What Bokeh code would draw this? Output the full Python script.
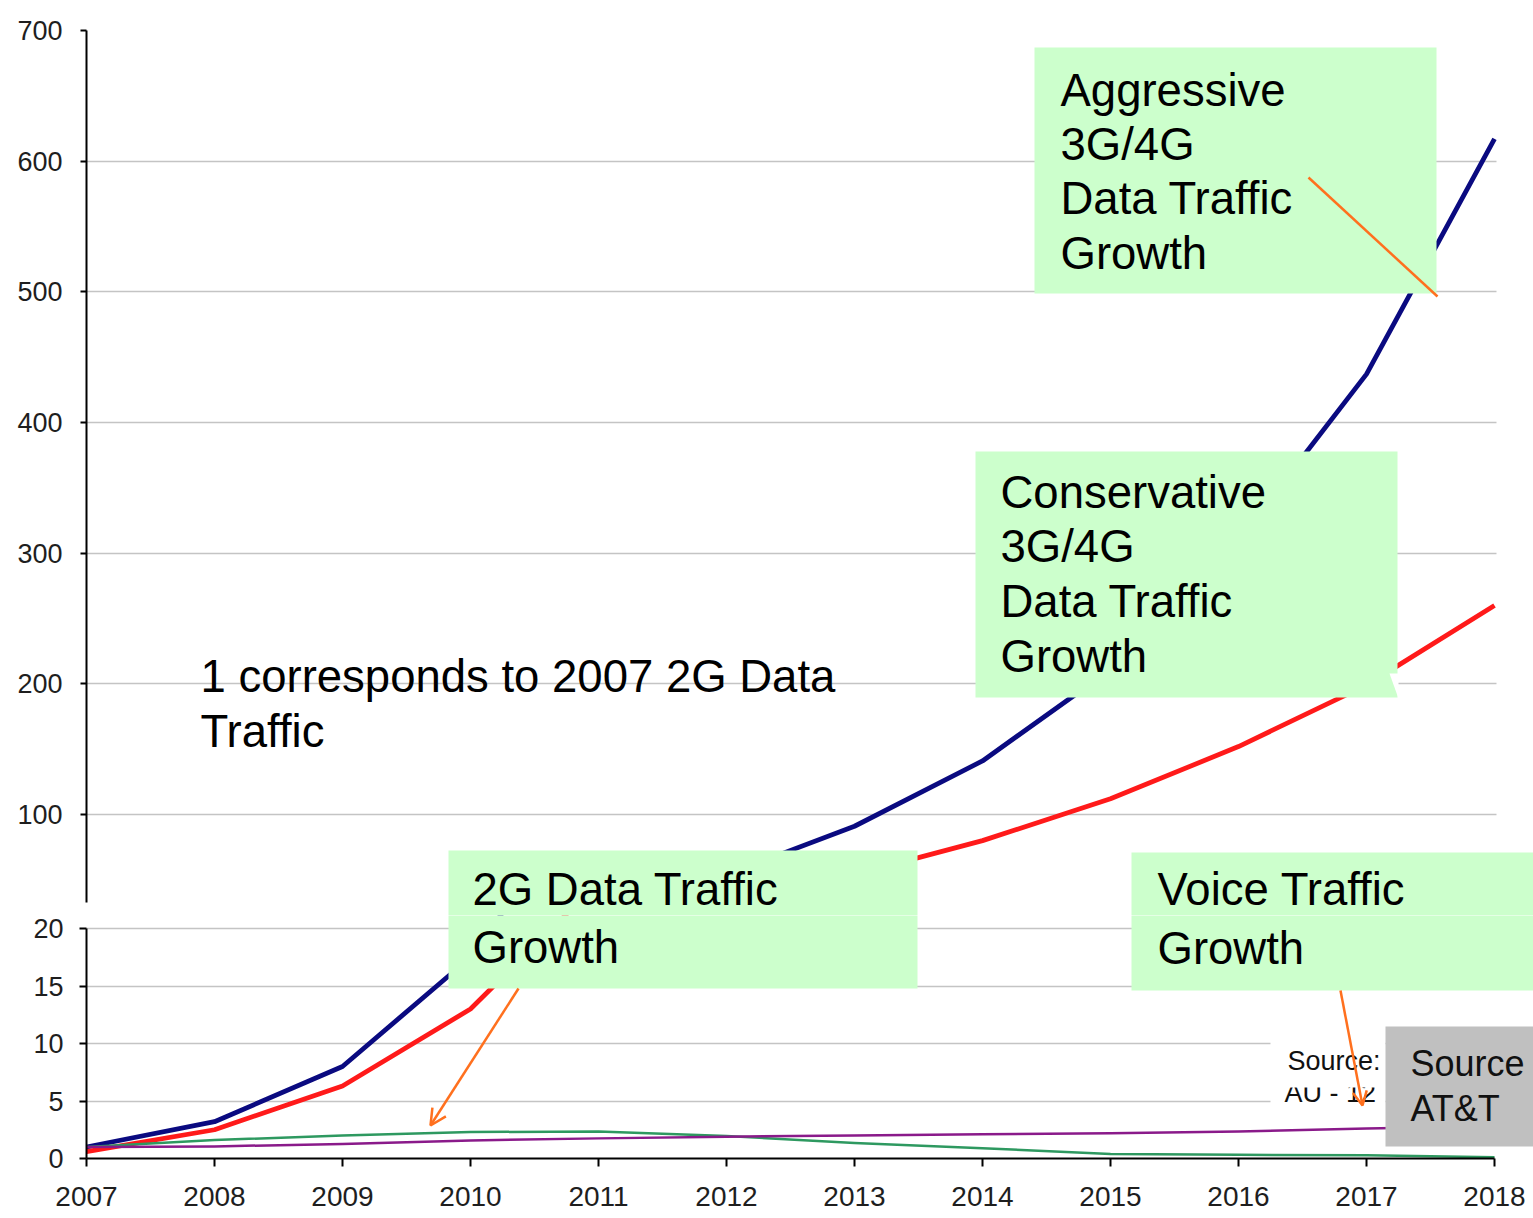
from bokeh.plotting import figure
from bokeh.layouts import column
from bokeh.models import (BoxAnnotation, Label, Arrow, OpenHead, FixedTicker,
                          Range1d, PolyAnnotation)
from bokeh.embed import file_html
from bokeh.resources import INLINE

# ---------------- data ----------------
years = list(range(2007, 2019))
aggressive_3g4g = [1.0, 3.2, 8.0, 17.5, 33, 54, 91, 141, 211, 310, 437, 617]
conservative_3g4g = [0.6, 2.5, 6.3, 13.0, 24, 37, 54, 80, 112, 152, 199, 260]
data_2g = [1.0, 1.6, 2.0, 2.3, 2.35, 1.95, 1.35, 0.9, 0.4, 0.32, 0.28, 0.1]
voice = [1.0, 1.05, 1.27, 1.57, 1.75, 1.9, 2.0, 2.1, 2.2, 2.35, 2.6, 2.8]
upper_ticks = [100, 200, 300, 400, 500, 600, 700]
lower_ticks = [0, 5, 10, 15, 20]

FONT = "Liberation Sans"
BOX_GREEN = "#ccffcc"
ORANGE = "#ff701e"
BIG = "45.5px"

# image-pixel -> data helpers (for annotation placement only)
def X(px):
    return 2007 + (px - 86) / 128.0

def YU(py):
    return 700 - (py - 30) * 600.0 / 784.0

def YL(py):
    return (1158 - py) * 20.0 / 230.0

series = [
    (aggressive_3g4g, "#0a0a80", 4.8),
    (conservative_3g4g, "#ff1a1a", 4.8),
    (data_2g, "#2e9960", 2.5),
    (voice, "#8a1a8a", 2.5),
]

def style(p):
    p.outline_line_color = None
    p.background_fill_color = "white"
    p.border_fill_color = "white"
    p.xgrid.visible = False
    p.ygrid.grid_line_color = "#c4c4c4"
    p.ygrid.grid_line_width = 1.6
    for ax in p.axis:
        ax.axis_line_color = "black"
        ax.axis_line_width = 2
        ax.major_tick_line_color = "black"
        ax.major_tick_line_width = 2
        ax.major_tick_in = 0
        ax.minor_tick_line_color = None
        ax.major_label_text_font = FONT
        ax.major_label_text_color = "#1e1e1e"

def box(p, l, r, t, b, color, level="annotation"):
    p.add_layout(BoxAnnotation(left=l, right=r, top=t, bottom=b, fill_color=color,
                               fill_alpha=1, line_color=None, level=level))

def lab(p, x, y, text, size=BIG, color="black"):
    p.add_layout(Label(x=x, y=y, text=text, text_font=FONT, text_font_size=size,
                       text_color=color, text_align="left", text_baseline="middle"))

# ---------------- upper panel ----------------
up = figure(width=1533, height=915, output_backend="svg", toolbar_location=None,
            x_range=Range1d(2007, X(1533)), y_range=Range1d(YU(915), 700),
            x_axis_location=None,
            min_border_left=86, min_border_right=0, min_border_top=30, min_border_bottom=0)
style(up)
up.yaxis.ticker = FixedTicker(ticks=upper_ticks)
up.yaxis.bounds = (YU(902), 700)
up.ygrid.ticker = FixedTicker(ticks=upper_ticks)
up.yaxis.major_tick_out = 6
up.yaxis.major_label_standoff = 18
up.yaxis.major_label_text_font_size = "27px"
# gridlines stop at the 2018 edge
box(up, X(1496), None, None, None, "white", level="underlay")

for vals, col, w in series:
    up.line(years, vals, line_color=col, line_width=w, line_join="round")

# ---------------- lower panel ----------------
lo = figure(width=1533, height=303, output_backend="svg", toolbar_location=None,
            x_range=Range1d(2007, X(1533)), y_range=Range1d(0, YL(915)),
            min_border_left=86, min_border_right=0, min_border_top=0, min_border_bottom=60)
style(lo)
lo.yaxis.ticker = FixedTicker(ticks=lower_ticks)
lo.yaxis.bounds = (0, 20)
lo.ygrid.ticker = FixedTicker(ticks=lower_ticks[1:])
lo.xaxis.ticker = FixedTicker(ticks=years)
lo.xaxis.bounds = (2007, 2018)
lo.yaxis.major_tick_out = 7
lo.yaxis.major_label_standoff = 16
lo.yaxis.major_label_text_font_size = "27px"
lo.xaxis.major_tick_out = 8
lo.xaxis.major_label_standoff = 20
lo.xaxis.major_label_text_font_size = "28px"
box(lo, X(1496), None, None, None, "white", level="underlay")

for vals, col, w in series:
    lo.line(years, vals, line_color=col, line_width=w, line_join="round")

# ---------------- annotations ----------------
# Aggressive box
box(up, X(1034), X(1436), YU(47), YU(293), BOX_GREEN)
for t, py in zip(["Aggressive", "3G/4G", "Data Traffic", "Growth"], [90, 144, 198, 253]):
    lab(up, X(1060), YU(py), t)

# Conservative box (with small notch at bottom right)
box(up, X(975), X(1397), YU(451), YU(697), BOX_GREEN)
up.add_layout(PolyAnnotation(xs=[X(1389), X(1398), X(1398)], ys=[YU(673), YU(673), YU(698)],
                             fill_color="white", fill_alpha=1, line_color=None))
for t, py in zip(["Conservative", "3G/4G", "Data Traffic", "Growth"], [492, 546, 601, 656]):
    lab(up, X(1000), YU(py), t)

# Note text
lab(up, X(200), YU(676), "1 corresponds to 2007 2G Data")
lab(up, X(200), YU(731), "Traffic")

# 2G box (spans both panels)
box(up, X(448), X(917), YU(850), YU(930), BOX_GREEN)
box(lo, X(448), X(917), YL(900), YL(988), BOX_GREEN)
lab(up, X(472), YU(889), "2G Data Traffic")
lab(lo, X(472), YL(947), "Growth")

# Voice box (spans both panels)
box(up, X(1131), X(1545), YU(852), YU(930), BOX_GREEN)
box(lo, X(1131), X(1545), YL(900), YL(990), BOX_GREEN)
lab(up, X(1157), YU(889), "Voice Traffic")
lab(lo, X(1157), YL(948), "Growth")

# Source note (partly hidden second line) and grey source box
box(lo, X(1270), X(1385), YL(1030), YL(1104), "white")
lab(lo, X(1287), YL(1060), "Source:", size="27px", color="#111111")
lab(lo, X(1284), YL(1092), "AU - 12", size="27px", color="#111111")
box(lo, X(1275), X(1385), YL(1073), YL(1087), "white")
box(lo, X(1385), X(1545), YL(1026), YL(1146), "#c0c0c0")
lab(lo, X(1410), YL(1063), "Source", size="36px", color="#111111")
lab(lo, X(1410), YL(1108), "AT&T", size="36px", color="#111111")

# Arrows
up.add_layout(Arrow(x_start=X(1308), y_start=YU(177), x_end=X(1437), y_end=YU(296),
                    line_color=ORANGE, line_width=2.5, end=None))
lo.add_layout(Arrow(x_start=X(518), y_start=YL(988), x_end=X(430), y_end=YL(1125),
                    line_color=ORANGE, line_width=2.5,
                    end=OpenHead(size=16, line_color=ORANGE, line_width=2.5)))
lo.add_layout(Arrow(x_start=X(1340), y_start=YL(990), x_end=X(1362), y_end=YL(1105),
                    line_color=ORANGE, line_width=2.5,
                    end=OpenHead(size=14, line_color=ORANGE, line_width=2.5)))

layout = column(up, lo, spacing=0)
open("out.html", "w").write(file_html(layout, INLINE))
